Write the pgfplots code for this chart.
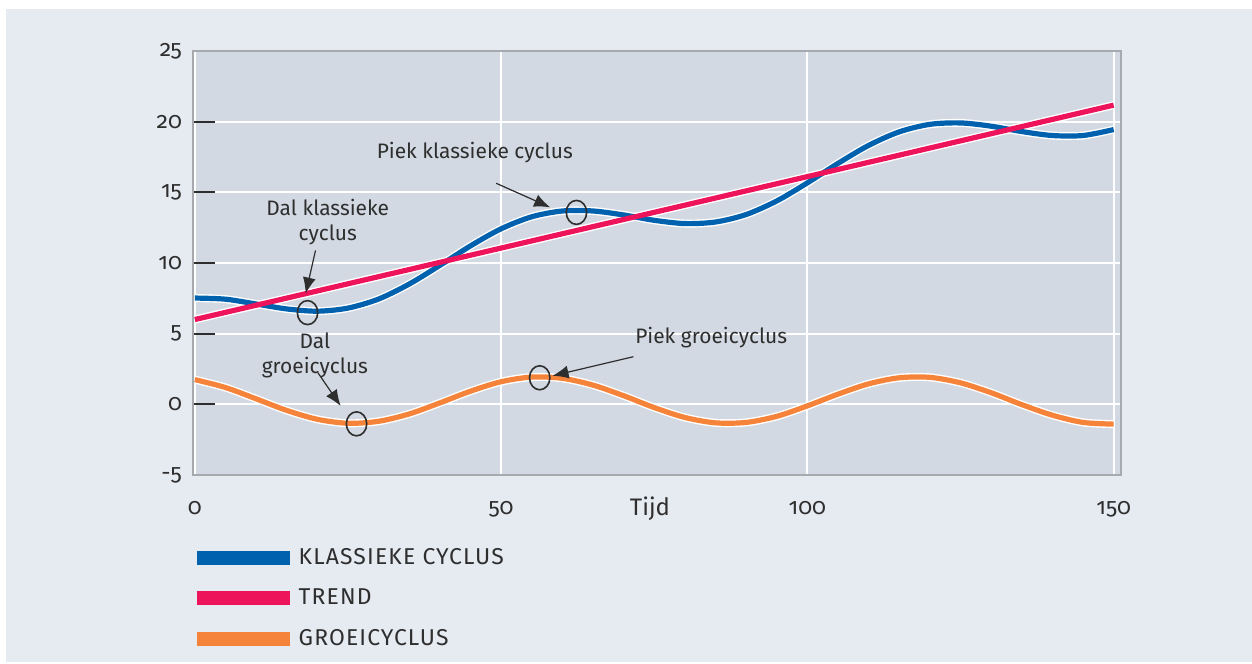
\documentclass[border=0pt]{standalone}
\usepackage{fontspec}
\setmainfont{Fira Sans}[Numbers=OldStyle]
\usepackage{pgfplots}
\pgfplotsset{compat=1.18}
\usetikzlibrary{arrows.meta}
\definecolor{bgpanel}{HTML}{E6EAF1}
\definecolor{plotbg}{HTML}{D2D9E2}
\definecolor{frame}{HTML}{A6A9AD}
\definecolor{klass}{HTML}{0062AE}
\definecolor{trend}{HTML}{EE145B}
\definecolor{groei}{HTML}{F5843A}
\definecolor{ink}{HTML}{2E2E2E}

% growth cycle, every 5 time units
\newcommand{\groei}{(0,1.75)(5,1.19)(10,0.39)(15,-0.43)(20,-1.06)(25,-1.34)(30,-1.20)
  (35,-0.68)(40,0.10)(45,0.93)(50,1.60)(55,1.93)(60,1.84)(65,1.36)(70,0.61)(75,-0.23)
  (80,-0.93)(85,-1.31)(90,-1.28)(95,-0.85)(100,-0.11)(105,0.72)(110,1.45)(115,1.88)
  (120,1.91)(125,1.52)(130,0.82)(135,-0.02)(140,-0.77)(145,-1.28)(150,-1.40)}
% classic cycle
\newcommand{\klass}{(0,7.52)(5,7.44)(10,7.10)(15,6.75)(20,6.59)(25,6.81)(30,7.45)
  (35,8.51)(40,9.83)(45,11.21)(50,12.42)(55,13.27)(60,13.68)(65,13.68)(70,13.40)
  (75,13.02)(80,12.79)(85,12.90)(90,13.43)(95,14.39)(100,15.67)(105,17.05)(110,18.32)
  (115,19.28)(120,19.81)(125,19.91)(130,19.68)(135,19.30)(140,19.02)(145,19.02)(150,19.44)}
\newcommand{\trend}{(0,6.0)(150,21.17)}

\begin{document}
\begin{tikzpicture}
\fill[white] (-96.5bp,-94.5bp) rectangle (529.5bp,237.5bp);
\fill[bgpanel] (-93.5bp,-93.5bp) rectangle (529.5bp,233bp);
\begin{axis}[at={(0,0)}, anchor=south west, scale only axis,
  width=464bp, height=212bp,
  xmin=-0.3, xmax=151.2, ymin=-5, ymax=25,
  axis background/.style={fill=plotbg},
  axis line style={frame, line width=1.2bp},
  xtick={0,50,100,150}, ytick={-5,0,5,10,15,20,25},
  x tick label style={yshift=-9.5bp},
  y tick label style={xshift=-2bp},
  ytick pos=left, tick align=inside, major tick length=11bp,
  major x tick style={draw=none},
  major y tick style={ink, line width=0.9bp},
  xmajorgrids, ymajorgrids, grid style={white, line width=1bp},
  tick label style={font=\fontsize{11.5}{13}\selectfont, text=ink},
  /pgf/number format/assume math mode=true,
  legend style={at={(-0.004,-0.172)}, anchor=north west, draw=none, fill=none,
    font=\fontsize{11.5}{13}\selectfont\addfontfeatures{LetterSpace=5}, text=ink,
    row sep=10.8bp, inner sep=0pt,
    nodes={inner xsep=1bp, inner ysep=0pt}},
  legend cell align=left,
  legend image code/.code={\draw[line width=7bp] (0bp,0bp) -- (46.5bp,0bp);},
  clip=false]
% white halos
\addplot[white, line width=4bp, smooth, forget plot] coordinates {\klass};
\addplot[white, line width=4bp, forget plot] coordinates {\trend};
\addplot[white, line width=4bp, smooth, forget plot] coordinates {\groei};
\addplot[klass, line width=2.6bp, smooth] coordinates {\klass};
\addplot[trend, line width=2.6bp] coordinates {\trend};
\addplot[groei, line width=2.6bp, smooth] coordinates {\groei};
\legend{KLASSIEKE CYCLUS, TREND, GROEICYCLUS}
% peaks and troughs
\addplot[only marks, mark=o, mark size=6bp, forget plot,
  mark options={ink, line width=0.8bp, xscale=0.85}]
  coordinates {(18.4,6.49)(62.3,13.58)(26.4,-1.38)(56.3,1.88)};
% annotations
\begin{scope}[ink, line width=0.6bp, -{Latex[length=8bp,width=6.5bp]}]
\draw (axis cs:49.2,15.64) -- (axis cs:58.0,13.94);
\draw (axis cs:19.7,10.89) -- (axis cs:18.1,7.84);
\draw (axis cs:20.1,2.23) -- (axis cs:23.8,-0.11);
\draw (axis cs:71.6,3.37) -- (axis cs:58.4,2.02);
\end{scope}
\begin{scope}[font=\fontsize{10.5}{12.5}\selectfont, text=ink, align=center, inner sep=0pt]
\node at (axis cs:45.7,17.84) {Piek klassieke cyclus};
\node at (axis cs:21.7,12.87) {Dal klassieke\\cyclus};
\node at (axis cs:19.6,3.44) {Dal\\groeicyclus};
\node at (axis cs:84.3,4.72) {Piek groeicyclus};
\node[font=\fontsize{12}{14}\selectfont] at (axis cs:74.3,-7.4) {Tijd};
\end{scope}
\end{axis}
\end{tikzpicture}
\end{document}
